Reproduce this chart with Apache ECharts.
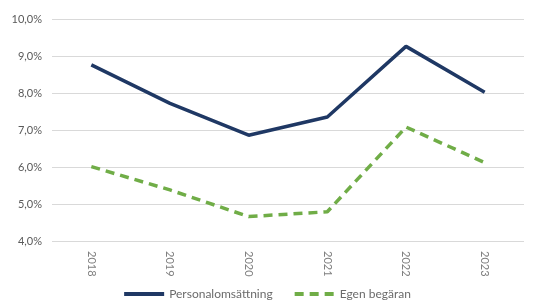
<!DOCTYPE html>
<html>
<head>
<meta charset="utf-8">
<script src="https://cdn.jsdelivr.net/npm/echarts@6/dist/echarts.min.js"></script>
<style>
  html, body { margin: 0; padding: 0; background: #fff; }
  #chart { width: 533px; height: 302px; }
</style>
</head>
<body>
<div id="chart"></div>
<script>
const years = ["2018", "2019", "2020", "2021", "2022", "2023"];
const personalomsattning = [8.76, 7.72, 6.86, 7.35, 9.26, 8.02];
const egenBegaran = [6.01, 5.38, 4.66, 4.79, 7.08, 6.12];

const chart = echarts.init(document.getElementById("chart"));

const fmt = (v) => v.toFixed(1).replace(".", ",") + "%";

chart.setOption({
  animation: false,
  grid: { left: 52, right: 9, top: 19, bottom: 61 },
  legend: {
    bottom: -3,
    left: "center",
    itemWidth: 40,
    itemHeight: 10,
    itemGap: 20,
    itemStyle: { opacity: 0 },
    lineStyle: { width: 4 },
    textStyle: { color: "#6b6b6b", fontSize: 12, fontFamily: "Lato" },
    data: ["Personalomsättning", "Egen begäran"]
  },
  xAxis: {
    type: "category",
    data: years,
    boundaryGap: true,
    axisLine: { show: false },
    axisTick: { show: false },
    axisLabel: { rotate: -90, color: "#7f7f7f", fontSize: 11, fontFamily: "Lato", margin: 10 }
  },
  yAxis: {
    type: "value",
    min: 4,
    max: 10,
    interval: 1,
    axisLine: { show: false },
    axisTick: { show: false },
    splitLine: { lineStyle: { color: "#d9d9d9", width: 1 } },
    axisLabel: { color: "#595959", fontSize: 11, fontFamily: "Lato", formatter: fmt, margin: 10 }
  },
  series: [
    {
      name: "Personalomsättning",
      type: "line",
      data: personalomsattning,
      symbol: "none",
      itemStyle: { color: "#1f3864" },
      lineStyle: { color: "#1f3864", width: 3.5 }
    },
    {
      name: "Egen begäran",
      type: "line",
      data: egenBegaran,
      symbol: "none",
      itemStyle: { color: "#70ad47" },
      lineStyle: { color: "#70ad47", width: 3.5, type: [9, 6] }
    }
  ]
});
</script>
</body>
</html>
